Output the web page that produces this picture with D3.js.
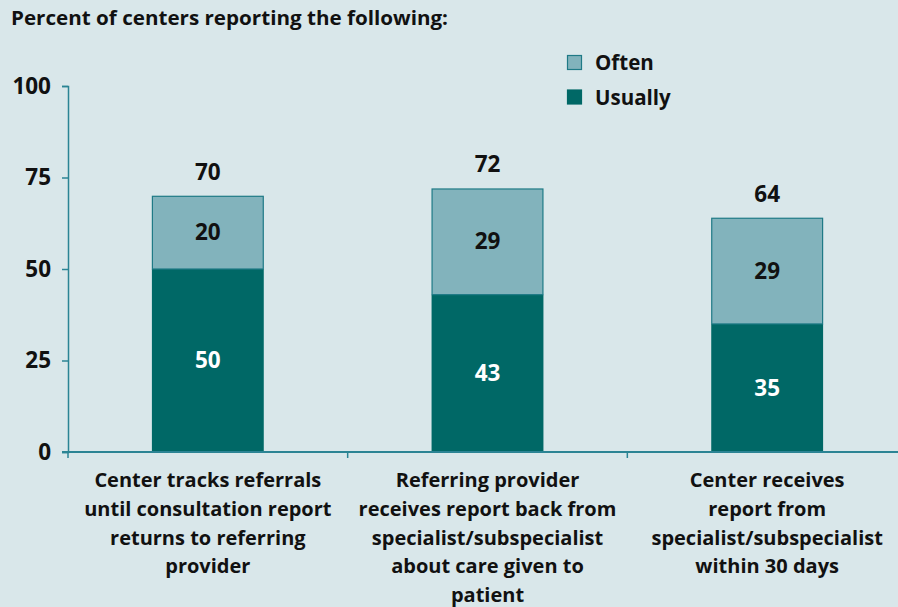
<!DOCTYPE html>
<html>
<head>
<meta charset="utf-8">
<script src="https://cdn.jsdelivr.net/npm/d3@7"></script>
<style>
  html, body { margin:0; padding:0; background:#d9e7ea; }
  svg { display:block; font-family:"Open Sans", "Noto Sans", sans-serif; font-weight:bold; }
</style>
</head>
<body>
<svg id="chart" width="898" height="607"></svg>
<script>
// data --------------------------------
var categories=[
  ['Center tracks referrals','until consultation report','returns to referring','provider'],
  ['Referring provider','receives report back from','specialist/subspecialist','about care given to','patient'],
  ['Center receives','report from','specialist/subspecialist','within 30 days']
];
var usually=[50,43,35];
var often=[20,29,29];
var totals=[70,72,64];
var yTicks=[0,25,50,75,100];
var seriesNames=['Often','Usually'];

var colUsually='#006866';
var colOften='#82b3bc';
var colAxis='#2b8494';

var svg=d3.select('#chart');
var W=898, H=607;
var m={top:86,left:68,right:-9,bottom:155};

var x=d3.scaleBand()
  .domain(d3.range(categories.length))
  .range([m.left,W-m.right])
  .paddingInner(0.6).paddingOuter(0.3);
var y=d3.scaleLinear().domain([0,100]).range([H-m.bottom,m.top]);

// title
svg.append('text').attr('x',11).attr('y',25)
  .attr('font-size',20).attr('fill','#111')
  .attr('textLength',437).attr('lengthAdjust','spacingAndGlyphs')
  .text('Percent of centers reporting the following:');

// bars
var g=svg.append('g');
g.selectAll('.usually').data(usually).enter().append('rect')
  .attr('class','usually')
  .attr('x',(d,i)=>x(i)).attr('width',x.bandwidth())
  .attr('y',d=>y(d)).attr('height',d=>y(0)-y(d))
  .attr('fill',colUsually);
g.selectAll('.often').data(often).enter().append('rect')
  .attr('class','often')
  .attr('x',(d,i)=>x(i)+0.5).attr('width',x.bandwidth()-1)
  .attr('y',(d,i)=>y(usually[i]+d)+0.5).attr('height',(d,i)=>y(usually[i])-y(usually[i]+d)-0.5)
  .attr('fill',colOften).attr('stroke','#1f7a86').attr('stroke-width',1.2);

// labels in bars
var numSize=22.5;
g.selectAll('.ulab').data(usually).enter().append('text')
  .attr('x',(d,i)=>x(i)+x.bandwidth()/2).attr('y',d=>y(d/2))
  .attr('dy','0.35em').attr('text-anchor','middle')
  .attr('font-size',numSize).attr('fill','#fff').text(d=>d);
g.selectAll('.olab').data(often).enter().append('text')
  .attr('x',(d,i)=>x(i)+x.bandwidth()/2).attr('y',(d,i)=>y(usually[i]+d/2))
  .attr('dy','0.35em').attr('text-anchor','middle')
  .attr('font-size',numSize).attr('fill','#111').text(d=>d);
g.selectAll('.tlab').data(totals).enter().append('text')
  .attr('x',(d,i)=>x(i)+x.bandwidth()/2).attr('y',d=>y(d)-24)
  .attr('dy','0.35em').attr('text-anchor','middle')
  .attr('font-size',numSize).attr('fill','#111').text(d=>d);

// y axis
var yAxis=svg.append('g').attr('transform','translate('+m.left+',0)')
  .call(d3.axisLeft(y).tickValues(yTicks).tickSize(6).tickPadding(11));
yAxis.selectAll('line,path').attr('stroke',colAxis).attr('stroke-width',1.5);
yAxis.selectAll('text').attr('font-size',22.5).attr('fill','#111')
  .attr('font-family','"Open Sans", sans-serif').attr('font-weight','bold');

// x axis
var xAxis=svg.append('g').attr('transform','translate(0,'+y(0)+')');
xAxis.append('line').attr('x1',m.left-6).attr('x2',W).attr('stroke',colAxis).attr('stroke-width',2);
var step=x.step();
var gap=(step-x.bandwidth())/2;
xAxis.selectAll('.xt').data(d3.range(categories.length+1)).enter().append('line')
  .attr('x1',d=>m.left+d*step).attr('x2',d=>m.left+d*step)
  .attr('y1',0).attr('y2',6).attr('stroke',colAxis).attr('stroke-width',1.5);

// category labels
categories.forEach((lines,i)=>{
  var t=svg.append('text').attr('text-anchor','middle')
    .attr('font-size',20).attr('fill','#111');
  lines.forEach((ln,j)=>{
    t.append('tspan').attr('x',x(i)+x.bandwidth()/2).attr('y',487+j*28.8).text(ln);
  });
});

// legend
var leg=svg.append('g');
var legColors=[colOften,colUsually];
seriesNames.forEach((s,i)=>{
  leg.append('rect').attr('x',567.5).attr('y',55.5+i*34.5).attr('width',14).attr('height',14)
    .attr('fill',legColors[i]).attr('stroke',i==0?'#1f7a86':colUsually).attr('stroke-width',1.2);
  leg.append('text').attr('x',595).attr('y',63+i*34.5).attr('dy','0.35em')
    .attr('font-size',20.5).attr('fill','#111').text(s);
});
</script>
</body>
</html>
